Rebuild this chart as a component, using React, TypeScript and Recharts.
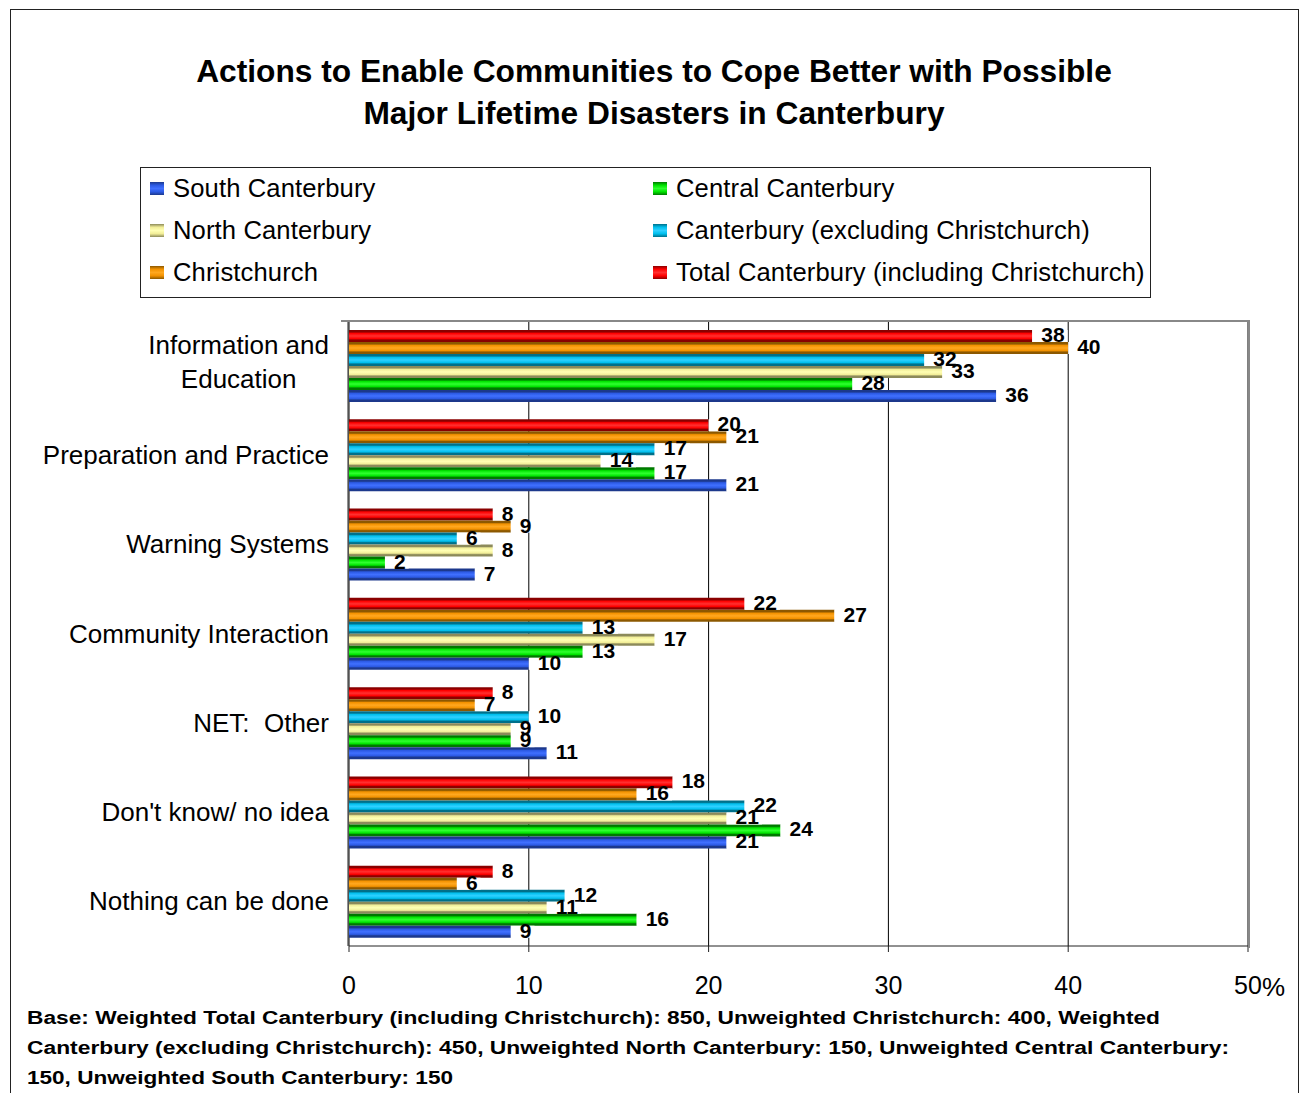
import { BarChart, Bar, XAxis, YAxis, CartesianGrid, LabelList } from 'recharts';

const categories = [
  'Information and\nEducation',
  'Preparation and Practice',
  'Warning Systems',
  'Community Interaction',
  'NET:\u00a0\u00a0Other',
  "Don't know/ no idea",
  'Nothing can be done',
];
const totalCanterbury = [38, 20, 8, 22, 8, 18, 8];
const christchurch = [40, 21, 9, 27, 7, 16, 6];
const canterburyExChch = [32, 17, 6, 13, 10, 22, 12];
const northCanterbury = [33, 14, 8, 17, 9, 21, 11];
const centralCanterbury = [28, 17, 2, 13, 9, 24, 16];
const southCanterbury = [36, 21, 7, 10, 11, 21, 9];
const xTicks = [0, 10, 20, 30, 40, 50];
const boundTicks = [0, 1, 2, 3, 4, 5, 6, 7];

// bar order top -> bottom inside each group
const series = [
  { key: 'total', name: 'Total Canterbury (including Christchurch)', values: totalCanterbury, dark: '#8a0000', main: '#ff0000', light: '#ff3030' },
  { key: 'chch', name: 'Christchurch', values: christchurch, dark: '#8c5800', main: '#f39200', light: '#ffa820' },
  { key: 'cantEx', name: 'Canterbury (excluding Christchurch)', values: canterburyExChch, dark: '#00708a', main: '#00c0ee', light: '#30d0ff' },
  { key: 'north', name: 'North Canterbury', values: northCanterbury, dark: '#8c8a5a', main: '#f2ee98', light: '#ffffb4' },
  { key: 'central', name: 'Central Canterbury', values: centralCanterbury, dark: '#007800', main: '#00e400', light: '#30ff30' },
  { key: 'south', name: 'South Canterbury', values: southCanterbury, dark: '#1c388c', main: '#2c5ae4', light: '#4070ff' },
];

// legend reads row by row: South, Central / North, CantEx / Chch, Total
const legendOrder = ['south', 'central', 'north', 'cantEx', 'chch', 'total'];

const data = categories.map((name, i) => {
  const row: Record<string, string | number> = { name };
  series.forEach(s => { row[s.key] = s.values[i]; });
  return row;
});

const FONT = '"Liberation Sans", Arial, Helvetica, sans-serif';

let measureCtx: CanvasRenderingContext2D | null = null;
function measure(text: string, font: string) {
  if (!measureCtx) measureCtx = document.createElement('canvas').getContext('2d');
  if (!measureCtx) return text.length * 12;
  measureCtx.font = font;
  return measureCtx.measureText(text).width;
}

const CategoryTick = (props: any) => {
  const { x, y, payload } = props;
  const lines = String(payload.value).split('\n');
  const font = `26px ${FONT}`;
  if (lines.length === 1) {
    return (
      <text x={x} y={y} dy={9} textAnchor="end" fontFamily={FONT} fontSize={26} fill="#000">
        {lines[0]}
      </text>
    );
  }
  const widest = Math.max(...lines.map(l => measure(l, font)));
  const cx = x - widest / 2;
  const lineH = 34;
  const startY = y - ((lines.length - 1) * lineH) / 2 - 4;
  return (
    <g>
      {lines.map((l, i) => (
        <text key={i} x={cx} y={startY + i * lineH} dy={9} textAnchor="middle" fontFamily={FONT} fontSize={26} fill="#000">
          {l}
        </text>
      ))}
    </g>
  );
};

const PercentTick = (props: any) => {
  const { x, y, payload } = props;
  const v = payload.value;
  return (
    <g>
      <text x={x} y={y + 40} textAnchor="middle" fontFamily={FONT} fontSize={25} fill="#000">
        {v}
      </text>
      {v === 50 && (
        <text x={x + 14} y={y + 42} textAnchor="start" fontFamily={FONT} fontSize={26} fill="#000">
          %
        </text>
      )}
    </g>
  );
};

const ValueLabel = (props: any) => {
  const { x, y, width, height, value } = props;
  const font = `bold 21px ${FONT}`;
  const tw = measure(String(value), font);
  const end = Number(x) + Number(width);
  return (
    <g>
      <rect x={end} y={y} width={tw + 12} height={height} fill="#fff" />
      <text x={end + 9} y={Number(y) + Number(height) / 2 + 6} fontFamily={FONT} fontSize={21} fontWeight="bold" fill="#000">
        {value}
      </text>
    </g>
  );
};

const swatch = (s: typeof series[number]) =>
  `linear-gradient(to bottom, ${s.dark} 0%, ${s.main} 25%, ${s.light} 50%, ${s.main} 75%, ${s.dark} 100%)`;

const LegendBox = () => (
  <div
    style={{
      position: 'absolute', left: 140, top: 167, width: 1009, height: 129,
      border: '1px solid #222', background: '#fff', fontFamily: FONT, fontSize: 25.6, letterSpacing: 0.12,
    }}
  >
    {legendOrder.map((k, i) => {
      const s = series.find(v => v.key === k)!;
      const col = i % 2;
      const row = Math.floor(i / 2);
      return (
        <div key={k} style={{ position: 'absolute', left: col === 0 ? 9 : 512, top: 5 + row * 42, height: 30, display: 'flex', alignItems: 'center', whiteSpace: 'nowrap' }}>
          <span style={{ display: 'inline-block', width: 14, height: 13, background: swatch(s), marginRight: 9 }} />
          <span>{s.name}</span>
        </div>
      );
    })}
  </div>
);

export default function App() {
  return (
    <div style={{ position: 'absolute', left: 0, top: 0, width: 1302, height: 1093, background: '#fff', overflow: 'hidden' }}>
      <div style={{ position: 'absolute', left: 10, top: 9, width: 1287, height: 1200, border: '1px solid #222' }} />
      <div
        style={{
          position: 'absolute', left: 0, top: 50, width: 1308, textAlign: 'center',
          fontFamily: FONT, fontWeight: 'bold', fontSize: 31.7, lineHeight: '42px', color: '#000',
        }}
      >
        Actions to Enable Communities to Cope Better with Possible
        <br />
        Major Lifetime Disasters in Canterbury
      </div>
      <LegendBox />
      <div style={{ position: 'absolute', left: 0, top: 0 }}>
        <BarChart
          width={1302}
          height={1093}
          data={data}
          layout="vertical"
          margin={{ top: 321, right: 54, bottom: 107, left: 347 }}
          barSize={12}
          barGap={0}
        >
          <defs>
            {series.map(s => (
              <linearGradient key={s.key} id={`grad-${s.key}`} x1="0" y1="0" x2="0" y2="1">
                <stop offset="0%" stopColor={s.dark} />
                <stop offset="16%" stopColor={s.dark} />
                <stop offset="28%" stopColor={s.main} />
                <stop offset="50%" stopColor={s.light} />
                <stop offset="72%" stopColor={s.main} />
                <stop offset="84%" stopColor={s.dark} />
                <stop offset="100%" stopColor={s.dark} />
              </linearGradient>
            ))}
          </defs>
          <CartesianGrid horizontal={false} stroke="#000" strokeWidth={1} />
          <XAxis
            type="number"
            domain={[0, 50]}
            ticks={xTicks}
            interval={0}
            height={40}
            axisLine={{ stroke: '#222' }}
            tickLine={{ stroke: '#222' }}
            tickSize={6}
            tick={<PercentTick />}
          />
          <YAxis
            yAxisId="bounds"
            type="number"
            domain={[0, 7]}
            ticks={boundTicks}
            interval={0}
            width={1}
            tick={false}
            tickSize={7}
            tickLine={{ stroke: '#222' }}
            axisLine={{ stroke: '#222' }}
            allowDataOverflow
          />
          <YAxis
            dataKey="name"
            type="category"
            width={1}
            axisLine={false}
            tickLine={false}
            tickSize={0}
            tickMargin={20}
            interval={0}
            tick={<CategoryTick />}
          />
          {series.map(s => (
            <Bar key={s.key} dataKey={s.key} name={s.name} fill={`url(#grad-${s.key})`} isAnimationActive={false}>
              <LabelList dataKey={s.key} content={<ValueLabel />} />
            </Bar>
          ))}
        </BarChart>
      </div>
      {/* plot frame: gray top and right edges */}
      <div style={{ position: 'absolute', left: 341, top: 320, width: 907, height: 626, borderTop: '2px solid #888', borderRight: '2px solid #888', pointerEvents: 'none' }} />
      <svg style={{ position: 'absolute', left: 0, top: 0 }} width={1302} height={1093}>
        <g fontFamily={FONT} fontWeight="bold" fontSize={18} fill="#000">
          <text x={27} y={1024} textLength={1133} lengthAdjust="spacingAndGlyphs">
            Base: Weighted Total Canterbury (including Christchurch): 850, Unweighted Christchurch: 400, Weighted
          </text>
          <text x={27} y={1054} textLength={1202} lengthAdjust="spacingAndGlyphs">
            Canterbury (excluding Christchurch): 450, Unweighted North Canterbury: 150, Unweighted Central Canterbury:
          </text>
          <text x={27} y={1084} textLength={426} lengthAdjust="spacingAndGlyphs">
            150, Unweighted South Canterbury: 150
          </text>
        </g>
      </svg>
    </div>
  );
}
